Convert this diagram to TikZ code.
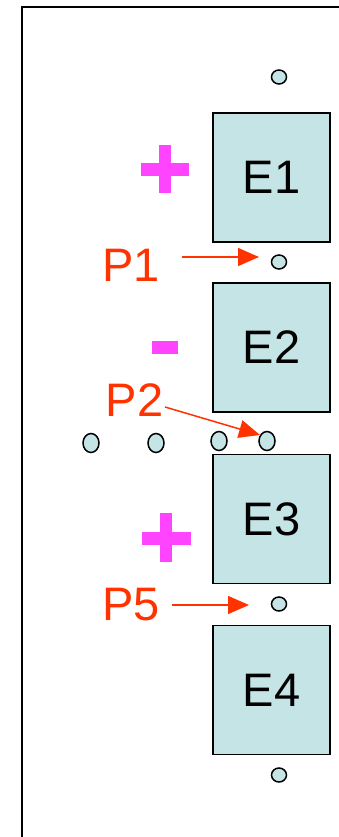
\documentclass[tikz,border=0pt]{standalone}
\usepackage{fontspec}
\setmainfont{Liberation Sans}
\usetikzlibrary{arrows.meta,shapes.geometric}
\definecolor{cellfill}{HTML}{C4E4E6}
\definecolor{signpink}{HTML}{FF44FF}
\definecolor{labelred}{HTML}{FF3300}
\begin{document}
\begin{tikzpicture}[x=1pt,y=-1pt,
  cellbox/.style={draw=black,line width=1.5pt,fill=cellfill,minimum width=117pt,minimum height=129pt,inner sep=0pt,font=\fontsize{47}{47}\selectfont},
  dot/.style={draw=black,line width=1.5pt,fill=cellfill,ellipse,minimum width=15pt,minimum height=14pt,inner sep=0pt},
  bigdot/.style={draw=black,line width=1.5pt,fill=cellfill,ellipse,minimum width=16pt,minimum height=19pt,inner sep=0pt},
  plabel/.style={text=labelred,inner sep=0pt,font=\fontsize{47}{47}\selectfont},
  parrow/.style={draw=labelred,line width=1.5pt,-{Triangle[length=21pt,width=18pt]}},
  sign/.style={fill=signpink,draw=none}]
\useasboundingbox (0,0) rectangle (339,837);
% frame
\draw[line width=2pt] (22,837) -- (22,7) -- (339,7);
% cells
\node[cellbox] (E1) at (271.5,177.5) {E1};
\node[cellbox] (E2) at (271.5,347.5) {E2};
\node[cellbox] (E3) at (271.5,519) {E3};
\node[cellbox] (E4) at (271.5,690) {E4};
% small dots
\node[dot] (d0) at (279,77) {};
\node[dot] (d1) at (279,262) {};
\node[dot] (d5) at (279,604) {};
\node[dot] (d6) at (279,775) {};
% row of dots
\node[bigdot] (r1) at (91,443) {};
\node[bigdot] (r2) at (156,443) {};
\node[bigdot] (r3) at (219,441) {};
\node[bigdot] (r4) at (267,441) {};
% signs
\fill[sign] (141,163) rectangle (189,176);
\fill[sign] (159,145) rectangle (171,193);
\fill[sign] (152,341) rectangle (178,354);
\fill[sign] (142,532) rectangle (191,545);
\fill[sign] (160,513) rectangle (172,562);
% labels
\node[plabel] (P1) at (131,265) {P1};
\node[plabel] (P2) at (134.5,400.5) {P2};
\node[plabel] (P5) at (131,605) {P5};
\coordinate (s1) at (182,257);
\coordinate (s2) at (165,407);
\coordinate (s5) at (172,605);
\coordinate (a1) at (259,257);
\coordinate (a2) at (260,435);
\coordinate (a5) at (249,605);
\draw[parrow] (s1) -- (a1);
\draw[parrow] (s2) -- (a2);
\draw[parrow] (s5) -- (a5);
\end{tikzpicture}
\end{document}
